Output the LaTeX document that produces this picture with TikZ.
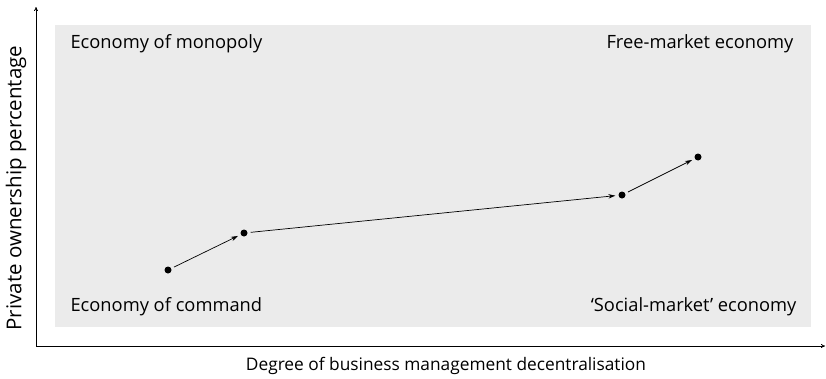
\documentclass[tikz,border=0pt]{standalone}
\usepackage{fontspec}
\setmainfont{Open Sans}
\usetikzlibrary{arrows.meta,positioning}
\begin{document}
\begin{tikzpicture}[x=1pt,y=-1pt,
  punkt/.style={circle,fill=black,inner sep=0pt,minimum size=7pt},
  pfeil/.style={-{Stealth[length=7pt,width=4.5pt]},line width=0.7pt,shorten >=3pt,shorten <=3pt},
  feld/.style={font=\fontsize{18.3}{22}\selectfont}]
\useasboundingbox (0,0) rectangle (826,378);
%Hintergrundfeld
\fill[black!8] (55,25) rectangle (811,327);
%Achsen
\coordinate (O) at (36,346);
\coordinate (ytop) at (36,7);
\coordinate (xend) at (825,346);
\draw[line width=0.8pt,-{To[length=4pt,width=4pt]}] (O) -- (ytop);
\draw[line width=0.8pt,-{To[length=4pt,width=4pt]}] (O) -- (xend);
\node[font=\fontsize{20.5}{24}\selectfont,rotate=90] (ylab) at (16,188) {Private ownership percentage};
\node[font=\fontsize{17.3}{21}\selectfont] (xlab) at (446,366) {Degree of business management decentralisation};
%Ecken
\node[feld,anchor=west] (monopol) at (67,44) {Economy of monopoly};
\node[feld,anchor=east] (markt) at (797,44) {Free-market economy};
\node[feld,anchor=west] (befehl) at (67,307) {Economy of command};
\node[feld,anchor=east] (sozial) at (800,307) {`Social-market' economy};
%Punkte
\node[punkt] (p1) at (168,270) {};
\node[punkt] (p2) at (244,233) {};
\node[punkt] (p3) at (622,195) {};
\node[punkt] (p4) at (698,157) {};
\foreach \a/\b in {p1/p2,p2/p3,p3/p4}{
\draw[pfeil] (\a) -- (\b);
}
\end{tikzpicture}
\end{document}
